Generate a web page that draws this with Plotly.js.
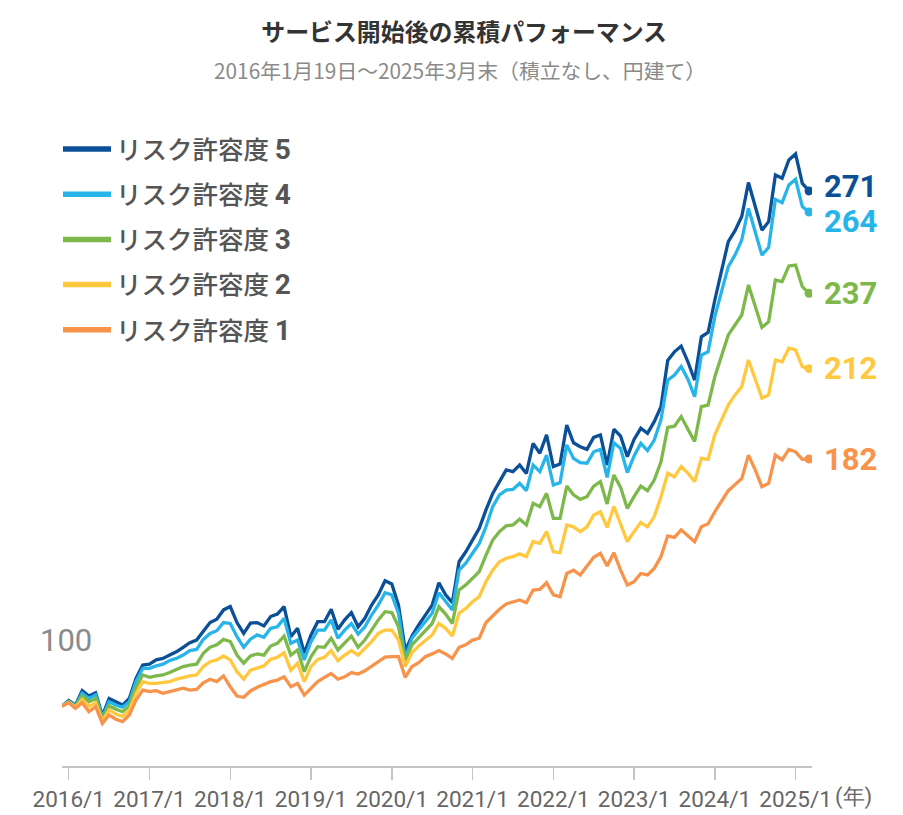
<!DOCTYPE html>
<html><head><meta charset="utf-8">
<script src="https://cdn.plot.ly/plotly-3.0.1.min.js"></script>
<style>html,body{margin:0;padding:0;background:#fff;}#chart{width:903px;height:815px;}</style>
</head><body><div id="chart"></div>
<script>
// ---- data ----
const tickLabels = ["2016/1","2017/1","2018/1","2019/1","2020/1","2021/1","2022/1","2023/1","2024/1","2025/1"];
const seriesLevels = ["5","4","3","2","1"];
const seriesColors = ["#0b4f97","#27b5e9","#7db84a","#ffc83e","#f7934a"];

const risk5 = [100,101.8,100.3,105.1,103.3,104.4,96.7,102.5,101.4,100.3,
102.5,109.2,113.6,113.9,115.3,115.8,116.9,118.0,119.5,121.0,
121.9,125.0,127.7,128.8,131.9,133.0,127.7,124.1,127.5,127.7,
126.6,129.7,130.5,133.0,123.0,125.8,117.5,123.6,128.0,128.0,
132.1,125.5,128.6,131.0,126.3,129.1,133.5,136.9,141.6,140.5,
133.5,118.4,123.2,126.9,130.2,133.5,140.9,136.9,134.3,147.9,
151.2,155.1,159.0,165.1,170.6,174.5,178.4,177.8,180.0,177.2,
187.2,183.9,190.0,179.5,180.3,193.3,187.4,186.1,185.2,189.2,
190.0,180.0,191.9,189.6,182.8,188.5,192.2,190.5,194.4,199.4,
214.7,217.6,219.5,214.3,208.2,222.6,224.0,234.8,244.8,254.2,
257.8,262.5,273.8,265.8,258.0,260.8,276.3,275.2,281.3,283.3,
273.5,271];
const risk4 = [100,101.5,100.1,104.2,102.5,103.7,96.2,101.4,100.3,99.6,
101.4,108.1,112.5,112.5,113.3,113.9,115.1,115.8,116.9,118.4,
118.8,122.1,124.1,125.0,127.7,127.4,123.0,119.5,122.2,123.6,
122.8,125.8,126.3,129.1,120.8,121.9,115.3,121.4,125.2,125.2,
128.6,122.5,125.2,127.4,123.9,126.3,130.2,133.5,137.6,136.9,
130.8,115.8,122.5,125.2,128.0,130.8,137.6,134.6,131.9,145.1,
147.4,150.7,154.0,159.5,166.2,170.1,171.7,171.9,173.9,171.5,
180.0,177.8,183.3,173.4,174.1,186.7,182.2,180.8,180.6,184.4,
185.2,175.9,187.4,185.5,177.5,183.0,187.2,184.8,188.3,195.0,
208.2,209.9,212.7,208.5,202.7,216.5,217.6,229.3,238.1,245.9,
249.7,254.7,265.2,257.5,249.7,252.3,268.2,267.1,273.0,274.9,
265.8,264];
const risk3 = [100,101.3,99.8,103.3,101.4,102.5,95.6,100.0,98.9,98.1,
100.0,106.2,110.3,109.5,110.0,110.3,111.1,112.2,113.1,113.6,
113.9,117.5,119.5,120.3,122.1,121.4,116.9,114.2,116.6,117.3,
116.9,119.9,120.8,123.2,116.9,118.6,111.4,116.4,119.7,119.5,
122.5,118.6,120.8,123.2,119.5,121.9,125.2,128.6,131.3,131.0,
126.3,114.7,120.3,122.8,125.2,127.4,133.0,130.5,127.4,138.5,
140.2,142.4,144.6,150.1,155.1,157.9,159.8,160.1,162.0,160.1,
167.3,166.2,170.6,162.3,162.3,173.0,170.1,168.6,169.5,173.0,
174.5,167.1,176.7,172.6,165.6,169.5,173.0,171.5,175.0,181.1,
192.5,192.9,196.1,191.9,187.8,199.4,199.9,209.3,216.0,223.2,
226.5,229.8,239.8,232.6,225.7,227.6,241.4,240.9,246.1,246.4,
239.2,237];
const risk2 = [100,101.2,99.6,102.2,99.8,101.1,95.0,98.7,97.3,96.5,
98.5,104.2,108.1,107.5,107.5,107.7,108.1,108.9,109.5,110.0,
110.3,113.1,114.7,115.3,116.6,115.3,111.4,108.9,111.9,112.5,
113.3,115.5,116.2,117.7,111.9,114.2,108.1,113.1,115.5,116.2,
118.4,115.0,116.9,118.4,116.9,119.1,121.4,124.1,125.2,125.2,
121.9,113.1,117.7,119.9,121.9,123.6,127.4,125.8,123.2,130.8,
132.4,134.6,136.3,141.3,145.1,147.9,149.0,149.6,150.5,149.6,
154.6,154.0,157.9,151.2,150.9,160.1,159.5,157.9,159.5,163.4,
164.5,159.3,166.2,160.6,154.6,157.9,160.9,159.5,162.9,169.5,
177.3,176.1,179.5,177.3,174.5,182.2,181.9,190.0,195.0,199.9,
203.3,206.0,214.9,208.8,202.2,203.3,214.9,214.3,218.8,218.2,
212.7,212];
const risk1 = [100,101.1,99.2,101.1,98.1,99.8,94.2,97.0,95.6,94.8,
97.0,102.0,105.3,104.8,105.1,104.2,104.8,105.3,105.9,105.3,
105.5,107.7,108.9,108.1,110.0,106.4,103.3,102.9,105.0,106.2,
107.3,108.1,108.6,109.7,106.4,107.5,103.6,105.9,108.1,109.5,
110.8,108.9,109.7,111.1,110.6,111.7,113.3,114.7,116.2,116.4,
116.4,109.5,113.1,114.4,116.4,117.3,118.4,117.3,115.8,119.5,
120.3,121.9,122.5,127.7,129.9,132.1,133.9,134.6,135.2,134.3,
138.5,138.7,140.9,136.9,136.3,144.0,145.1,143.5,146.5,149.4,
150.7,146.5,150.9,145.1,140.2,141.3,144.0,143.5,145.7,149.6,
156.5,156.0,158.5,156.5,154.5,159.5,160.5,164.5,168.0,171.5,
173.5,175.5,183.3,178.4,172.8,173.9,183.3,181.7,185.2,184.4,
181.9,182];

// ---- build ----
const seriesValues = [risk5, risk4, risk3, risk2, risk1];
// period labels: start date, then each month-end 2016/1 .. 2025/3
const periods = ["2016/1/19"];
for (let y = 2016; y <= 2025; y++) {
  for (let m = 1; m <= 12; m++) {
    if (y === 2025 && m > 3) break;
    periods.push(y + "/" + m);
  }
}
const xIdx = periods.map((_, i) => i);
const lastI = xIdx.length - 1;
const tickVals = tickLabels.map(l => periods.indexOf(l));

const JP = "'Noto Sans CJK JP', 'Noto Sans', sans-serif";
const NUM = "Roboto, 'Noto Sans', sans-serif";

const traces = [];
// data lines
seriesValues.forEach((vals, k) => {
  traces.push({
    type: "scatter", mode: "lines", x: xIdx, y: vals,
    name: "リスク許容度 " + seriesLevels[k],
    legendgroup: "g" + k, showlegend: false,
    line: {color: seriesColors[k], width: 3.3, shape: "linear"},
    hoverinfo: "skip"
  });
});
// end-point dots
seriesValues.forEach((vals, k) => {
  traces.push({
    type: "scatter", mode: "markers", x: [xIdx[lastI]], y: [vals[lastI]],
    marker: {color: seriesColors[k], size: 9},
    showlegend: false, hoverinfo: "skip"
  });
});
// legend entries (thicker swatch, no data drawn)
seriesValues.forEach((vals, k) => {
  traces.push({
    type: "scatter", mode: "lines", x: [null], y: [null],
    name: "リスク許容度 <b><span style='font-family:Roboto;font-size:28px;color:#555'>" + seriesLevels[k] + "</span></b>",
    legendgroup: "g" + k, showlegend: true,
    line: {color: seriesColors[k], width: 5.5},
    hoverinfo: "skip"
  });
});

const labelShift = [4, -9, 0, 0, 0];
const annotations = seriesValues.map((vals, k) => ({
  x: xIdx[lastI], y: vals[lastI], xref: "x", yref: "y",
  text: "<b>" + Math.round(vals[lastI]) + "</b>",
  showarrow: false, xanchor: "left", yanchor: "middle",
  xshift: 13, yshift: labelShift[k],
  font: {family: NUM, size: 31, color: seriesColors[k]}
}));
annotations.push({
  x: xIdx[0], y: risk5[0], xref: "x", yref: "y",
  text: String(risk5[0]), showarrow: false, xanchor: "left", yanchor: "middle",
  xshift: -24, yshift: 66,
  font: {family: NUM, size: 31, color: "#8a8a8a"}
});
annotations.push({
  x: (460 - 62) / 750, y: (766 - 70) / 666, xref: "paper", yref: "paper",
  text: "2016年1月19日〜2025年3月末（積立なし、円建て）",
  showarrow: false, xanchor: "center", yanchor: "middle",
  font: {family: JP, size: 20.8, color: "#8a8a8a"}
});
annotations.push({
  x: 1, y: 0, xref: "paper", yref: "paper",
  text: "(年)", showarrow: false, xanchor: "left", yanchor: "middle",
  xshift: 21, yshift: -31,
  font: {family: NUM, size: 22, color: "#666"}
});

const layout = {
  width: 903, height: 815,
  margin: {l: 62, r: 91, t: 100, b: 49, autoexpand: false},
  paper_bgcolor: "#fff", plot_bgcolor: "#fff",
  title: {
    text: "<b>サービス開始後の累積パフォーマンス</b>",
    font: {family: JP, size: 23.9, color: "#333"},
    x: 0.514, xref: "container", xanchor: "center",
    y: 1 - 33/815, yref: "container", yanchor: "middle"
  },
  xaxis: {
    range: [0, 111.44], showgrid: false, zeroline: false,
    showline: true, linecolor: "#c4c4c4", linewidth: 2,
    ticks: "outside", ticklen: 12, tickwidth: 1.5, tickcolor: "#c4c4c4",
    tickmode: "array", tickvals: tickVals, ticktext: tickLabels, tickangle: 0,
    tickfont: {family: NUM, size: 22.5, color: "#666"}, fixedrange: true
  },
  yaxis: {
    range: [80.08, 301.2], visible: false, showgrid: false, zeroline: false, fixedrange: true
  },
  showlegend: true,
  legend: {
    xref: "paper", yref: "paper", x: (58 - 62) / 750, y: (766 - 126) / 666,
    xanchor: "left", yanchor: "top", orientation: "v",
    font: {family: JP, size: 25.5, color: "#555", weight: 500},
    bgcolor: "rgba(0,0,0,0)", borderwidth: 0,
    tracegroupgap: 9, itemwidth: 48, traceorder: "grouped"
  },
  annotations: annotations
};

Plotly.newPlot("chart", traces, layout, {displayModeBar: false, staticPlot: true});
</script>
</body></html>
